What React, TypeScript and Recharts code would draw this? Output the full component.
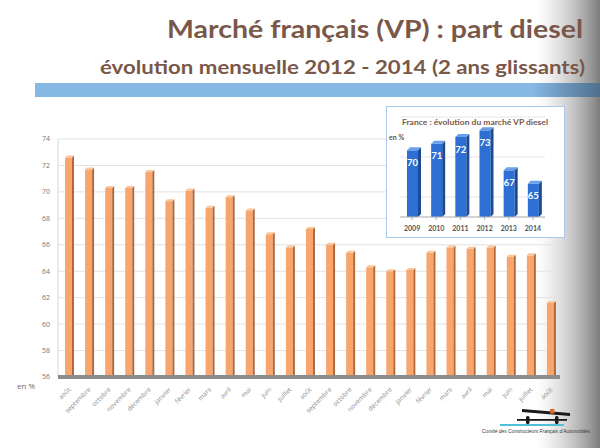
import React from "react";
import { BarChart, Bar, XAxis, YAxis, CartesianGrid, LabelList } from "recharts";

const months = [
  "août", "septembre", "octobre", "novembre", "décembre", "janvier", "février", "mars", "avril", "mai", "juin", "juillet",
  "août", "septembre", "octobre", "novembre", "décembre", "janvier", "février", "mars", "avril", "mai", "juin", "juillet", "août",
];
const dieselShare = [
  72.6, 71.7, 70.3, 70.3, 71.5, 69.3, 70.1, 68.8, 69.6, 68.6, 66.8, 65.8,
  67.2, 66.0, 65.4, 64.3, 64.0, 64.1, 65.4, 65.8, 65.7, 65.8, 65.1, 65.2, 61.6,
];
const yTicks = [56, 58, 60, 62, 64, 66, 68, 70, 72, 74];

const years = ["2009", "2010", "2011", "2012", "2013", "2014"];
const yearShare = [70, 71, 72, 73, 67, 65];

const mainData = months.map((m, i) => ({ key: `${m}-${i}`, label: m, v: dieselShare[i] }));
const insetData = years.map((y, i) => ({ year: y, v: yearShare[i] }));

const Bar3D = (props: any) => {
  const { x, y, width, height, front, side, top, depth } = props;
  if (height == null || height <= 0) return null;
  const d = depth;
  return (
    <g>
      <rect x={x} y={y} width={width} height={height} fill={front} />
      <polygon
        points={`${x + width},${y} ${x + width + d},${y - d} ${x + width + d},${y + height - d} ${x + width},${y + height}`}
        fill={side}
      />
      <polygon
        points={`${x},${y} ${x + d},${y - d} ${x + width + d},${y - d} ${x + width},${y}`}
        fill={top}
      />
    </g>
  );
};

const MonthTick = (props: any) => {
  const { x, y, payload } = props;
  const idx = payload.index;
  const label = months[idx] ?? "";
  return (
    <g transform={`translate(${x + 3},${y + 5}) rotate(-45)`}>
      <text x={0} y={0} textAnchor="end" fontSize={6.5} fill="#8a8a8a" fontFamily="Open Sans, sans-serif">
        {label}
      </text>
    </g>
  );
};

export default function App() {
  return (
    <div style={{ position: "absolute", left: 0, top: 0, width: 600, height: 448, background: "#fff", overflow: "hidden" }}>
      <svg width={600} height={448} style={{ position: "absolute", left: 0, top: 0 }}>
        <defs>
          <linearGradient id="rightShade" x1="0" y1="0" x2="1" y2="0">
            <stop offset="0" stopColor="#ffffff" stopOpacity={0} />
            <stop offset="0.35" stopColor="#d8d8d8" stopOpacity={0.6} />
            <stop offset="1" stopColor="#7c7c7c" stopOpacity={1} />
          </linearGradient>
          <linearGradient id="band" x1="0" y1="0" x2="1" y2="0">
            <stop offset="0" stopColor="#86b8e4" />
            <stop offset="0.88" stopColor="#86b8e4" />
            <stop offset="1" stopColor="#4f6f8c" />
          </linearGradient>
        </defs>
        <rect x={530} y={0} width={70} height={448} fill="url(#rightShade)" />
        <rect x={35} y={83} width={565} height={14} fill="url(#band)" />
        <text x={583} y={38} textAnchor="end" fontSize={24} fontWeight={700} fill="#7a5849"
          fontFamily="Lato, sans-serif" textLength={416} lengthAdjust="spacingAndGlyphs">
          Marché français (VP) : part diesel
        </text>
        <text x={585} y={74} textAnchor="end" fontSize={18} fontWeight={700} fill="#7a5849"
          fontFamily="Lato, sans-serif" textLength={485} lengthAdjust="spacingAndGlyphs">
          évolution mensuelle 2012 - 2014 (2 ans glissants)
        </text>
        <text x={17} y={389} fontSize={8} fill="#6a6a6a" fontFamily="Open Sans, sans-serif">en %</text>
      </svg>

      <div style={{ position: "absolute", left: 0, top: 0 }}>
        <BarChart width={600} height={448} data={mainData} margin={{ top: 139, right: 40, bottom: 41, left: 0 }} barCategoryGap={0}>
          <CartesianGrid vertical={false} stroke="#e2e2e2" strokeWidth={1} />
          <YAxis
            width={58}
            domain={[56, 74]}
            ticks={yTicks}
            allowDataOverflow
            axisLine={{ stroke: "#d8d8d8" }}
            tickLine={false}
            tickSize={0}
            tickMargin={8}
            tick={{ fontSize: 7, fill: "#777", fontFamily: "Open Sans, sans-serif" }}
          />
          <XAxis
            dataKey="key"
            height={30}
            interval={0}
            axisLine={{ stroke: "#8c8c8c", strokeWidth: 4 }}
            tickLine={false}
            tick={<MonthTick />}
          />
          <Bar
            dataKey="v"
            barSize={7}
            isAnimationActive={false}
            shape={(p: any) => <Bar3D {...p} front="#f8a66d" side="#b0693b" top="#fbc59a" depth={2} />}
          />
        </BarChart>
      </div>

      <div style={{ position: "absolute", left: 386, top: 106, width: 179, height: 132, background: "#fff", border: "1.5px solid #a9c9e9", boxSizing: "border-box" }} />
      <svg width={600} height={448} style={{ position: "absolute", left: 0, top: 0, pointerEvents: "none" }}>
        <text x={475} y={125} textAnchor="middle" fontSize={7.5} fontWeight={700} fill="#7a5849"
          fontFamily="Lato, sans-serif" textLength={146} lengthAdjust="spacingAndGlyphs">
          France : évolution du marché VP diesel
        </text>
        <text x={389} y={140} fontSize={7} fontWeight={700} fill="#6a5044" fontFamily="Lato, sans-serif">en %</text>
      </svg>
      <div style={{ position: "absolute", left: 386, top: 106 }}>
        <BarChart width={180} height={133} data={insetData} margin={{ top: 11, right: 21, bottom: 1, left: 14 }} barCategoryGap={0}>
          <CartesianGrid vertical={false} stroke="#e6e6e6" />
          <YAxis hide domain={[60, 75]} ticks={[63, 66, 69, 72, 75]} allowDataOverflow />
          <XAxis
            dataKey="year"
            height={21}
            interval={0}
            axisLine={{ stroke: "#b5b5b5" }}
            tickLine={{ stroke: "#b5b5b5" }}
            tickSize={3}
            tickMargin={6}
            tick={{ fontSize: 7, fontWeight: 700, fill: "#555", fontFamily: "Lato, sans-serif" }}
          />
          <Bar
            dataKey="v"
            barSize={11}
            isAnimationActive={false}
            shape={(p: any) => <Bar3D {...p} front="#2d6fd3" side="#1b4a98" top="#6aa0ea" depth={3} />}
          >
            <LabelList dataKey="v" position="insideTop" offset={9} fill="#ffffff" fontSize={9.5} fontWeight={700} fontFamily="Lato, sans-serif" />
          </Bar>
        </BarChart>
      </div>

      <svg width={600} height={448} style={{ position: "absolute", left: 0, top: 0, pointerEvents: "none" }}>
        <polygon points="522,409 570,413 570,416 522,412" fill="#1a1a1a" />
        <rect x={550} y={409} width={4.5} height={4.5} fill="#e0692e" />
        <rect x={517} y={419} width={50} height={1.8} fill="#1a1a1a" />
        <rect x={526} y={416} width={3.5} height={8} rx={1.5} fill="#1a1a1a" />
        <rect x={555} y={416} width={3.5} height={8} rx={1.5} fill="#1a1a1a" />
        <rect x={500} y={424} width={64} height={2} fill="#4fc0d8" />
        <text x={482} y={433} fontSize={4.8} fontStyle="italic" fill="#333" fontFamily="Liberation Sans, sans-serif"
          textLength={108} lengthAdjust="spacingAndGlyphs">
          Comité des Constructeurs Français d'Automobiles
        </text>
      </svg>
    </div>
  );
}
